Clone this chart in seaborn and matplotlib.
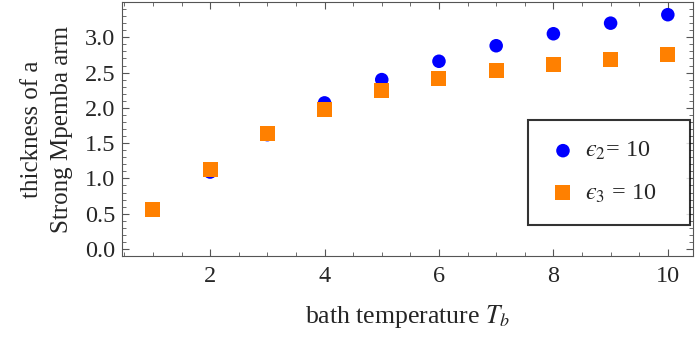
import numpy as np
import pandas as pd
import matplotlib
matplotlib.use("Agg")
import matplotlib.pyplot as plt
from matplotlib.ticker import MultipleLocator, FormatStrFormatter
import seaborn as sns

T_b = [1, 2, 3, 4, 5, 6, 7, 8, 9, 10]
eps2 = [0.55, 1.09, 1.62, 2.07, 2.40, 2.66, 2.88, 3.05, 3.20, 3.32]
eps3 = [0.56, 1.13, 1.63, 1.98, 2.24, 2.41, 2.53, 2.62, 2.69, 2.75]
labels = ["$\u03f5_2$= 10", "$\u03f5_3$ = 10"]

sns.set_style("ticks")
plt.rcParams["font.family"] = ["Liberation Serif", "DejaVu Serif"]
plt.rcParams["mathtext.fontset"] = "stix"
plt.rcParams["xtick.direction"] = "in"
plt.rcParams["ytick.direction"] = "in"

df = pd.concat([
    pd.DataFrame({"T": T_b, "v": eps2, "s": labels[0]}),
    pd.DataFrame({"T": T_b, "v": eps3, "s": labels[1]}),
])

fig = plt.figure(figsize=(6.96, 3.37), dpi=100)
ax = fig.add_axes([122/696, 1-256/337, (693-122)/696, (256-2)/337])

sns.scatterplot(data=df[df.s == labels[0]], x="T", y="v", color="#0000FF", marker="o",
                s=95, edgecolor="none", ax=ax, label=labels[0], zorder=2)
sns.scatterplot(data=df[df.s == labels[1]], x="T", y="v", color="#FF8000", marker="s",
                s=117, edgecolor="none", ax=ax, label=labels[1], zorder=3)

ax.set_xlim(0.46, 10.44)
ax.set_ylim(-0.1, 3.5)
ax.xaxis.set_major_locator(MultipleLocator(2))
ax.xaxis.set_minor_locator(MultipleLocator(0.5))
ax.yaxis.set_minor_locator(MultipleLocator(0.1))
ax.set_yticks([0, 0.5, 1.0, 1.5, 2.0, 2.5, 3.0])
ax.yaxis.set_major_formatter(FormatStrFormatter("%.1f"))
ax.tick_params(which="both", top=True, right=True, labelsize=17.5, color="#555555")
ax.tick_params(axis="x", which="major", pad=7)
ax.tick_params(axis="y", which="major", pad=5)
ax.tick_params(which="major", length=5, width=0.8)
ax.tick_params(which="minor", length=3, width=0.6)
for sp in ax.spines.values():
    sp.set_color("#555555")
    sp.set_linewidth(0.8)

ax.set_xlabel(r"bath temperature $T_b$", fontsize=18.5, labelpad=12)
ax.set_ylabel("thickness of a\nStrong Mpemba arm", fontsize=18, labelpad=8, linespacing=1.5)

leg = ax.legend(loc="lower left", bbox_to_anchor=(0.711, 0.122, 0.284, 0.1), mode="expand",
                fontsize=17.5, frameon=True, fancybox=False, edgecolor="black",
                borderpad=0.84, handlelength=1.2, handletextpad=0.31,
                labelspacing=0.82, markerscale=1.0, borderaxespad=0)
leg.get_frame().set_linewidth(1.5)

fig.savefig("out.png", dpi=100)
